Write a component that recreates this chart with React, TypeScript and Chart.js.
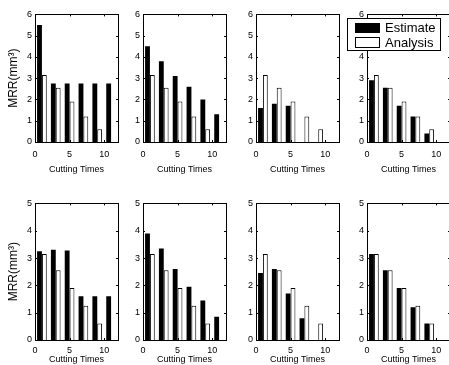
import React, { useEffect, useRef } from "react";
import { Chart, registerables } from "chart.js";

Chart.register(...registerables);

const cuttingTimes = [1, 3, 5, 7, 9, 11];
const xTickLabels = [0, 5, 10];

const est1 = [5.5, 2.75, 2.75, 2.75, 2.75, 2.75];
const ana1 = [3.15, 2.55, 1.9, 1.2, 0.6, 0];
const est2 = [4.5, 3.8, 3.1, 2.6, 2.0, 1.3];
const ana2 = [3.15, 2.55, 1.9, 1.2, 0.6, 0];
const est3 = [1.6, 1.8, 1.7, 0, 0, 0];
const ana3 = [3.15, 2.55, 1.9, 1.2, 0.6, 0];
const est4 = [2.9, 2.55, 1.7, 1.2, 0.4, 0];
const ana4 = [3.15, 2.55, 1.9, 1.2, 0.6, 0];

const est5 = [3.25, 3.3, 3.28, 1.6, 1.6, 1.6];
const ana5 = [3.15, 2.55, 1.9, 1.25, 0.6, 0];
const est6 = [3.9, 3.35, 2.6, 1.95, 1.45, 0.85];
const ana6 = [3.15, 2.55, 1.9, 1.25, 0.6, 0];
const est7 = [2.45, 2.6, 1.7, 0.8, 0, 0];
const ana7 = [3.15, 2.55, 1.9, 1.25, 0.6, 0];
const est8 = [3.15, 2.55, 1.9, 1.2, 0.6, 0];
const ana8 = [3.15, 2.55, 1.9, 1.25, 0.6, 0];

const topYMax = 6;
const bottomYMax = 5;
const seriesNames = ["Estimate", "Analysis"];
const xTitle = "Cutting Times";
const yTitle = "MRR(mm³)";

const FONT = "'Liberation Sans', Arial, Helvetica, sans-serif";

const colLefts = [35, 143, 256, 367];
const plotW = 83;
const rows = [
  { plotTop: 14, plotH: 128, tp: 8, xh: 34, tickPad: 7, titlePad: 1, yMax: topYMax },
  { plotTop: 203, plotH: 137, tp: 8, xh: 25, tickPad: 5, titlePad: 0, yMax: bottomYMax },
];

const panels = [
  { row: 0, col: 0, est: est1, ana: ana1 },
  { row: 0, col: 1, est: est2, ana: ana2 },
  { row: 0, col: 2, est: est3, ana: ana3 },
  { row: 0, col: 3, est: est4, ana: ana4, legend: true },
  { row: 1, col: 0, est: est5, ana: ana5 },
  { row: 1, col: 1, est: est6, ana: ana6 },
  { row: 1, col: 2, est: est7, ana: ana7 },
  { row: 1, col: 3, est: est8, ana: ana8 },
];

function Panel({ p }: { p: any }) {
  const ref = useRef<HTMLCanvasElement | null>(null);
  const row = rows[p.row];
  const yw = p.col === 0 ? 35 : 22;
  const rp = 2;
  const left = colLefts[p.col] - yw;
  const top = row.plotTop - row.tp;
  const width = yw + plotW + rp;
  const height = row.tp + row.plotH + row.xh;

  useEffect(() => {
    if (!ref.current) return;
    const framePlugin = {
      id: "frame" + p.row + p.col,
      afterDraw(chart: any) {
        const ctx = chart.ctx;
        const a = chart.chartArea;
        ctx.save();
        ctx.strokeStyle = "#000";
        ctx.lineWidth = 1;
        ctx.strokeRect(Math.round(a.left) + 0.5, Math.round(a.top) + 0.5, Math.round(a.right - a.left), Math.round(a.bottom - a.top));
        const ys = chart.scales.y;
        const xs = chart.scales.x;
        ctx.beginPath();
        for (const t of ys.ticks) {
          const py = Math.round(ys.getPixelForValue(t.value)) + 0.5;
          ctx.moveTo(a.left, py); ctx.lineTo(a.left + 2, py);
          ctx.moveTo(a.right, py); ctx.lineTo(a.right - 2, py);
        }
        for (const t of xs.ticks) {
          const px = Math.round(xs.getPixelForValue(t.value)) + 0.5;
          ctx.moveTo(px, a.bottom); ctx.lineTo(px, a.bottom - 2);
          ctx.moveTo(px, a.top); ctx.lineTo(px, a.top + 2);
        }
        ctx.stroke();
        if (p.legend) {
          const ox = 347 - left;
          const oy = 18 - top;
          ctx.fillStyle = "#fff";
          ctx.fillRect(ox, oy, 93, 32);
          ctx.strokeRect(ox + 0.5, oy + 0.5, 93, 32);
          ctx.fillStyle = "#000";
          ctx.fillRect(ox + 8, oy + 5, 25, 10);
          ctx.strokeRect(ox + 8.5, oy + 19.5, 24, 10);
          ctx.font = "13px " + FONT;
          ctx.textBaseline = "middle";
          ctx.textAlign = "left";
          ctx.fillText(seriesNames[0], ox + 38, oy + 10);
          ctx.fillText(seriesNames[1], ox + 38, oy + 25);
        }
        ctx.restore();
      },
    };
    const chart = new Chart(ref.current, {
      type: "bar",
      data: {
        datasets: [
          {
            label: seriesNames[0],
            data: cuttingTimes.map((x, i) => ({ x, y: p.est[i] })),
            backgroundColor: "#000",
            borderColor: "#000",
            borderWidth: 0,
          },
          {
            label: seriesNames[1],
            data: cuttingTimes.map((x, i) => ({ x, y: p.ana[i] })),
            backgroundColor: "#fff",
            borderColor: "#000",
            borderWidth: 1,
          },
        ],
      },
      options: {
        animation: false,
        responsive: false,
        maintainAspectRatio: false,
        layout: { padding: { top: row.tp, right: rp, left: 0, bottom: 0 } },
        datasets: { bar: { categoryPercentage: 0.7, barPercentage: 1 } },
        plugins: { legend: { display: false }, tooltip: { enabled: false } },
        scales: {
          x: {
            type: "linear",
            min: 0,
            max: 12,
            offset: false,
            grid: { display: false, drawTicks: false, offset: false },
            border: { display: false },
            afterFit: (s: any) => { s.height = row.xh; },
            afterBuildTicks: (s: any) => { s.ticks = xTickLabels.map((v) => ({ value: v })); },
            ticks: {
              padding: row.tickPad,
              maxRotation: 0,
              color: "#000",
              font: { family: FONT, size: 9 },
            },
            title: {
              display: true,
              text: xTitle,
              color: "#000",
              font: { family: FONT, size: 9 },
              padding: { top: 0, bottom: row.titlePad },
            },
          },
          y: {
            min: 0,
            max: row.yMax,
            grid: { display: false, drawTicks: false },
            border: { display: false },
            afterFit: (s: any) => { s.width = yw; },
            ticks: {
              stepSize: 1,
              padding: 3,
              color: "#000",
              font: { family: FONT, size: 9 },
            },
            title: {
              display: p.col === 0,
              text: yTitle,
              color: "#000",
              font: { family: FONT, size: 12 },
              padding: { top: 6, bottom: 0 },
            },
          },
        },
      },
      plugins: [framePlugin],
    } as any);
    return () => chart.destroy();
  }, []);

  return (
    <canvas
      ref={ref}
      width={width}
      height={height}
      style={{ position: "absolute", left, top, width, height }}
    />
  );
}

export default function App() {
  useEffect(() => {
    document.body.style.margin = "0";
  }, []);
  return (
    <div style={{ position: "relative", width: 449, height: 365, overflow: "hidden", background: "#fff" }}>
      {panels.map((p, i) => (
        <Panel key={i} p={p} />
      ))}
    </div>
  );
}
